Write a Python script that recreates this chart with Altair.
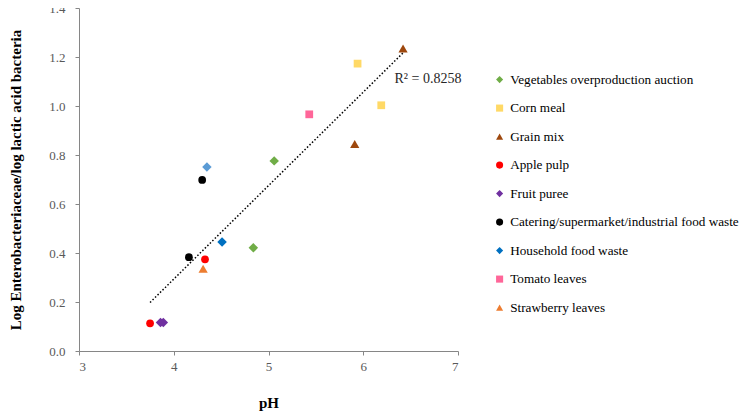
import altair as alt
import pandas as pd

# Legend categories, their colours and marker shapes
categories = [
    "Vegetables overproduction auction",
    "Corn meal",
    "Grain mix",
    "Apple pulp",
    "Fruit puree",
    "Catering/supermarket/industrial food waste",
    "Household food waste",
    "Tomato leaves",
    "Strawberry leaves",
]
cat_colors = ["#70AD47", "#FFD966", "#9E480E", "#FF0000", "#7030A0",
              "#000000", "#0070C0", "#FF6699", "#ED7D31"]
cat_shapes = ["diamond", "square", "triangle-up", "circle", "diamond",
              "circle", "diamond", "square", "triangle-up"]
shape_sizes = {"diamond": 90, "square": 60, "triangle-up": 85, "circle": 60}

# Individual samples
point_category = [
    "Vegetables overproduction auction", "Vegetables overproduction auction",
    "Corn meal", "Corn meal",
    "Grain mix", "Grain mix",
    "Apple pulp", "Apple pulp",
    "Fruit puree", "Fruit puree",
    "Catering/supermarket/industrial food waste", "Catering/supermarket/industrial food waste",
    "Household food waste", "Household food waste",
    "Tomato leaves",
    "Strawberry leaves",
]
point_ph = [5.06, 4.84, 5.94, 6.19, 6.42, 5.91, 4.33, 3.75, 3.86, 3.89,
            4.30, 4.16, 4.35, 4.51, 5.43, 4.31]
point_ratio = [0.776, 0.421, 1.173, 1.003, 1.235, 0.845, 0.374, 0.113, 0.116, 0.116,
               0.698, 0.383, 0.751, 0.445, 0.966, 0.336]
point_shade = ["", "", "", "", "", "", "", "", "", "",
               "", "", "light", "", "", ""]

r2_text = ["R² = 0.8258"]
r2_ph = [6.33]
r2_ratio = [1.11]

x_ticks = [3, 4, 5, 6, 7]
y_ticks = [0.0, 0.2, 0.4, 0.6, 0.8, 1.0, 1.2, 1.4]

shape_of = dict(zip(categories, cat_shapes))
df = pd.DataFrame({"category": point_category, "pH": point_ph,
                   "ratio": point_ratio, "shade": point_shade})
df["sz"] = [shape_sizes[shape_of[c]] for c in point_category]
df_r2 = pd.DataFrame({"label": r2_text, "pH": r2_ph, "ratio": r2_ratio})

FONT = "Liberation Serif"

x_enc = alt.X("pH:Q", title="pH",
              scale=alt.Scale(domain=[3, 7], nice=False, zero=False),
              axis=alt.Axis(values=x_ticks, format="d", grid=False,
                            tickSize=4, labelPadding=5, titlePadding=22))
y_enc = alt.Y("ratio:Q", title="Log Enterobacteriaceae/log lactic acid bacteria",
              scale=alt.Scale(domain=[0, 1.4], nice=False),
              axis=alt.Axis(values=y_ticks, format=".1f", grid=False,
                            tickSize=4, labelPadding=10, titlePadding=25))

legend = alt.Legend(title=None, orient="none", legendX=414, legendY=65,
                    labelFont=FONT, labelFontSize=13.2, labelColor="#000000",
                    symbolSize=50, rowPadding=14.5, labelOffset=4,
                    padding=0, labelLimit=400, symbolStrokeWidth=0)

points = alt.Chart(df).mark_point(filled=True, opacity=1).encode(
    x=x_enc,
    y=y_enc,
    size=alt.Size("sz:Q", scale=None),
    shape=alt.Shape("category:N", scale=alt.Scale(domain=categories, range=cat_shapes),
                    legend=legend),
    color=alt.condition(
        alt.datum.shade == "light",
        alt.value("#5B9BD5"),
        alt.Color("category:N", scale=alt.Scale(domain=categories, range=cat_colors),
                  legend=legend),
    ),
)

trend = alt.Chart(df).transform_regression("pH", "ratio").mark_line(
    color="#000000", strokeDash=[1.5, 2], strokeWidth=1.5
).encode(x="pH:Q", y="ratio:Q")

r2 = alt.Chart(df_r2).mark_text(align="left", baseline="middle", font=FONT,
                                fontSize=14, color="#262626").encode(
    x="pH:Q", y="ratio:Q", text="label:N")

chart = alt.layer(trend, points, r2).properties(
    width=379, height=343,
    autosize=alt.AutoSizeParams(type="none"),
    padding={"left": 71, "top": 0, "right": 284, "bottom": 60},
).configure_view(stroke=None).configure_axis(
    domainColor="#868686", tickColor="#868686",
    labelFont=FONT, labelFontSize=13, labelColor="#595959",
    titleFont=FONT, titleFontSize=15, titleFontWeight="bold", titleColor="#000000",
)

chart.save("out.html", embed_options={"renderer": "svg", "actions": False})
